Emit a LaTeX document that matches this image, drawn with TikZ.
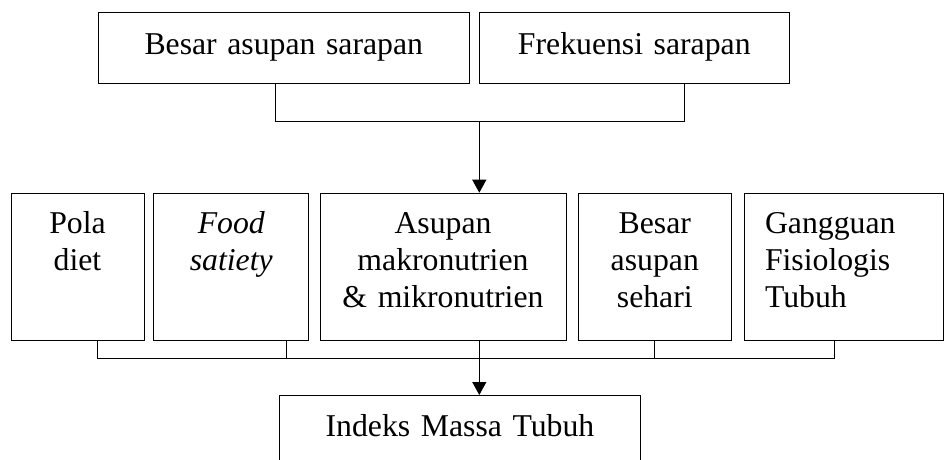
\documentclass[tikz,border=0pt]{standalone}
\usepackage{fontspec}
\setmainfont{Liberation Serif}
\usetikzlibrary{arrows.meta}
\tikzset{box/.style={draw, line width=.8pt, inner xsep=0pt, inner ysep=0pt, align=center, font=\fontsize{27.1pt}{31.6pt}\selectfont}, topbox/.style={box, anchor=north, text height=12.5mm, text depth=8.8mm}, rowbox/.style={box, anchor=north, text height=12.2mm, text depth=32mm}, link/.style={line width=.8pt}, arr/.style={line width=1pt, -{Triangle[length=3.9mm,width=4.2mm]}}}

\begin{document}
\begin{tikzpicture}[x=.3mm,y=-.3mm]
\useasboundingbox (0,0) rectangle (944,459);
\clip (0,0) rectangle (944,459);
\node[topbox, text width=111.3mm] (besar) at (283.8,12.3) {Besar asupan sarapan};
\node[topbox, text width=93mm] (frek) at (634.3,12.3) {Frekuensi sarapan};
\node[rowbox, text width=39.9mm] (pola) at (77.5,192.7) {Pola\\diet};
\node[rowbox, text width=46.4mm] (food) at (231.3,192.7) {\textit{Food}\\\textit{satiety}};
\node[rowbox, text width=73.8mm] (asupan) at (443,192.7) {Asupan\\makronutrien\\\& mikronutrien};
\node[rowbox, text width=45.7mm] (sehari) at (654.8,192.7) {Besar\\asupan\\sehari};
\node[rowbox, text width=47.1mm, inner xsep=6.3mm, align=left] (gangguan) at (843.5,192.7) {Gangguan\\Fisiologis\\Tubuh};
\node[box, anchor=north, text width=108.4mm, text height=12.3mm, text depth=11.7mm] (imt) at (460,395) {Indeks Massa Tubuh};
\coordinate (atas) at (479.3,121.7);
\coordinate (bawah) at (479.3,358.7);
\draw[link] (besar.south -| 275,0) |- (atas) -| (frek.south -| 684,0);
\draw[arr] (atas) -- (atas |- asupan.north);
\draw[link] (pola.south -| 97.7,0) |- (bawah) -| (gangguan.south -| 834,0);
\draw[link] (food.south -| 286,0) -- (bawah -| 286,0);
\draw[link] (sehari.south) -- (sehari.south |- bawah);
\draw[arr] (asupan.south -| bawah) -- (imt.north -| bawah);
\end{tikzpicture}
\end{document}
